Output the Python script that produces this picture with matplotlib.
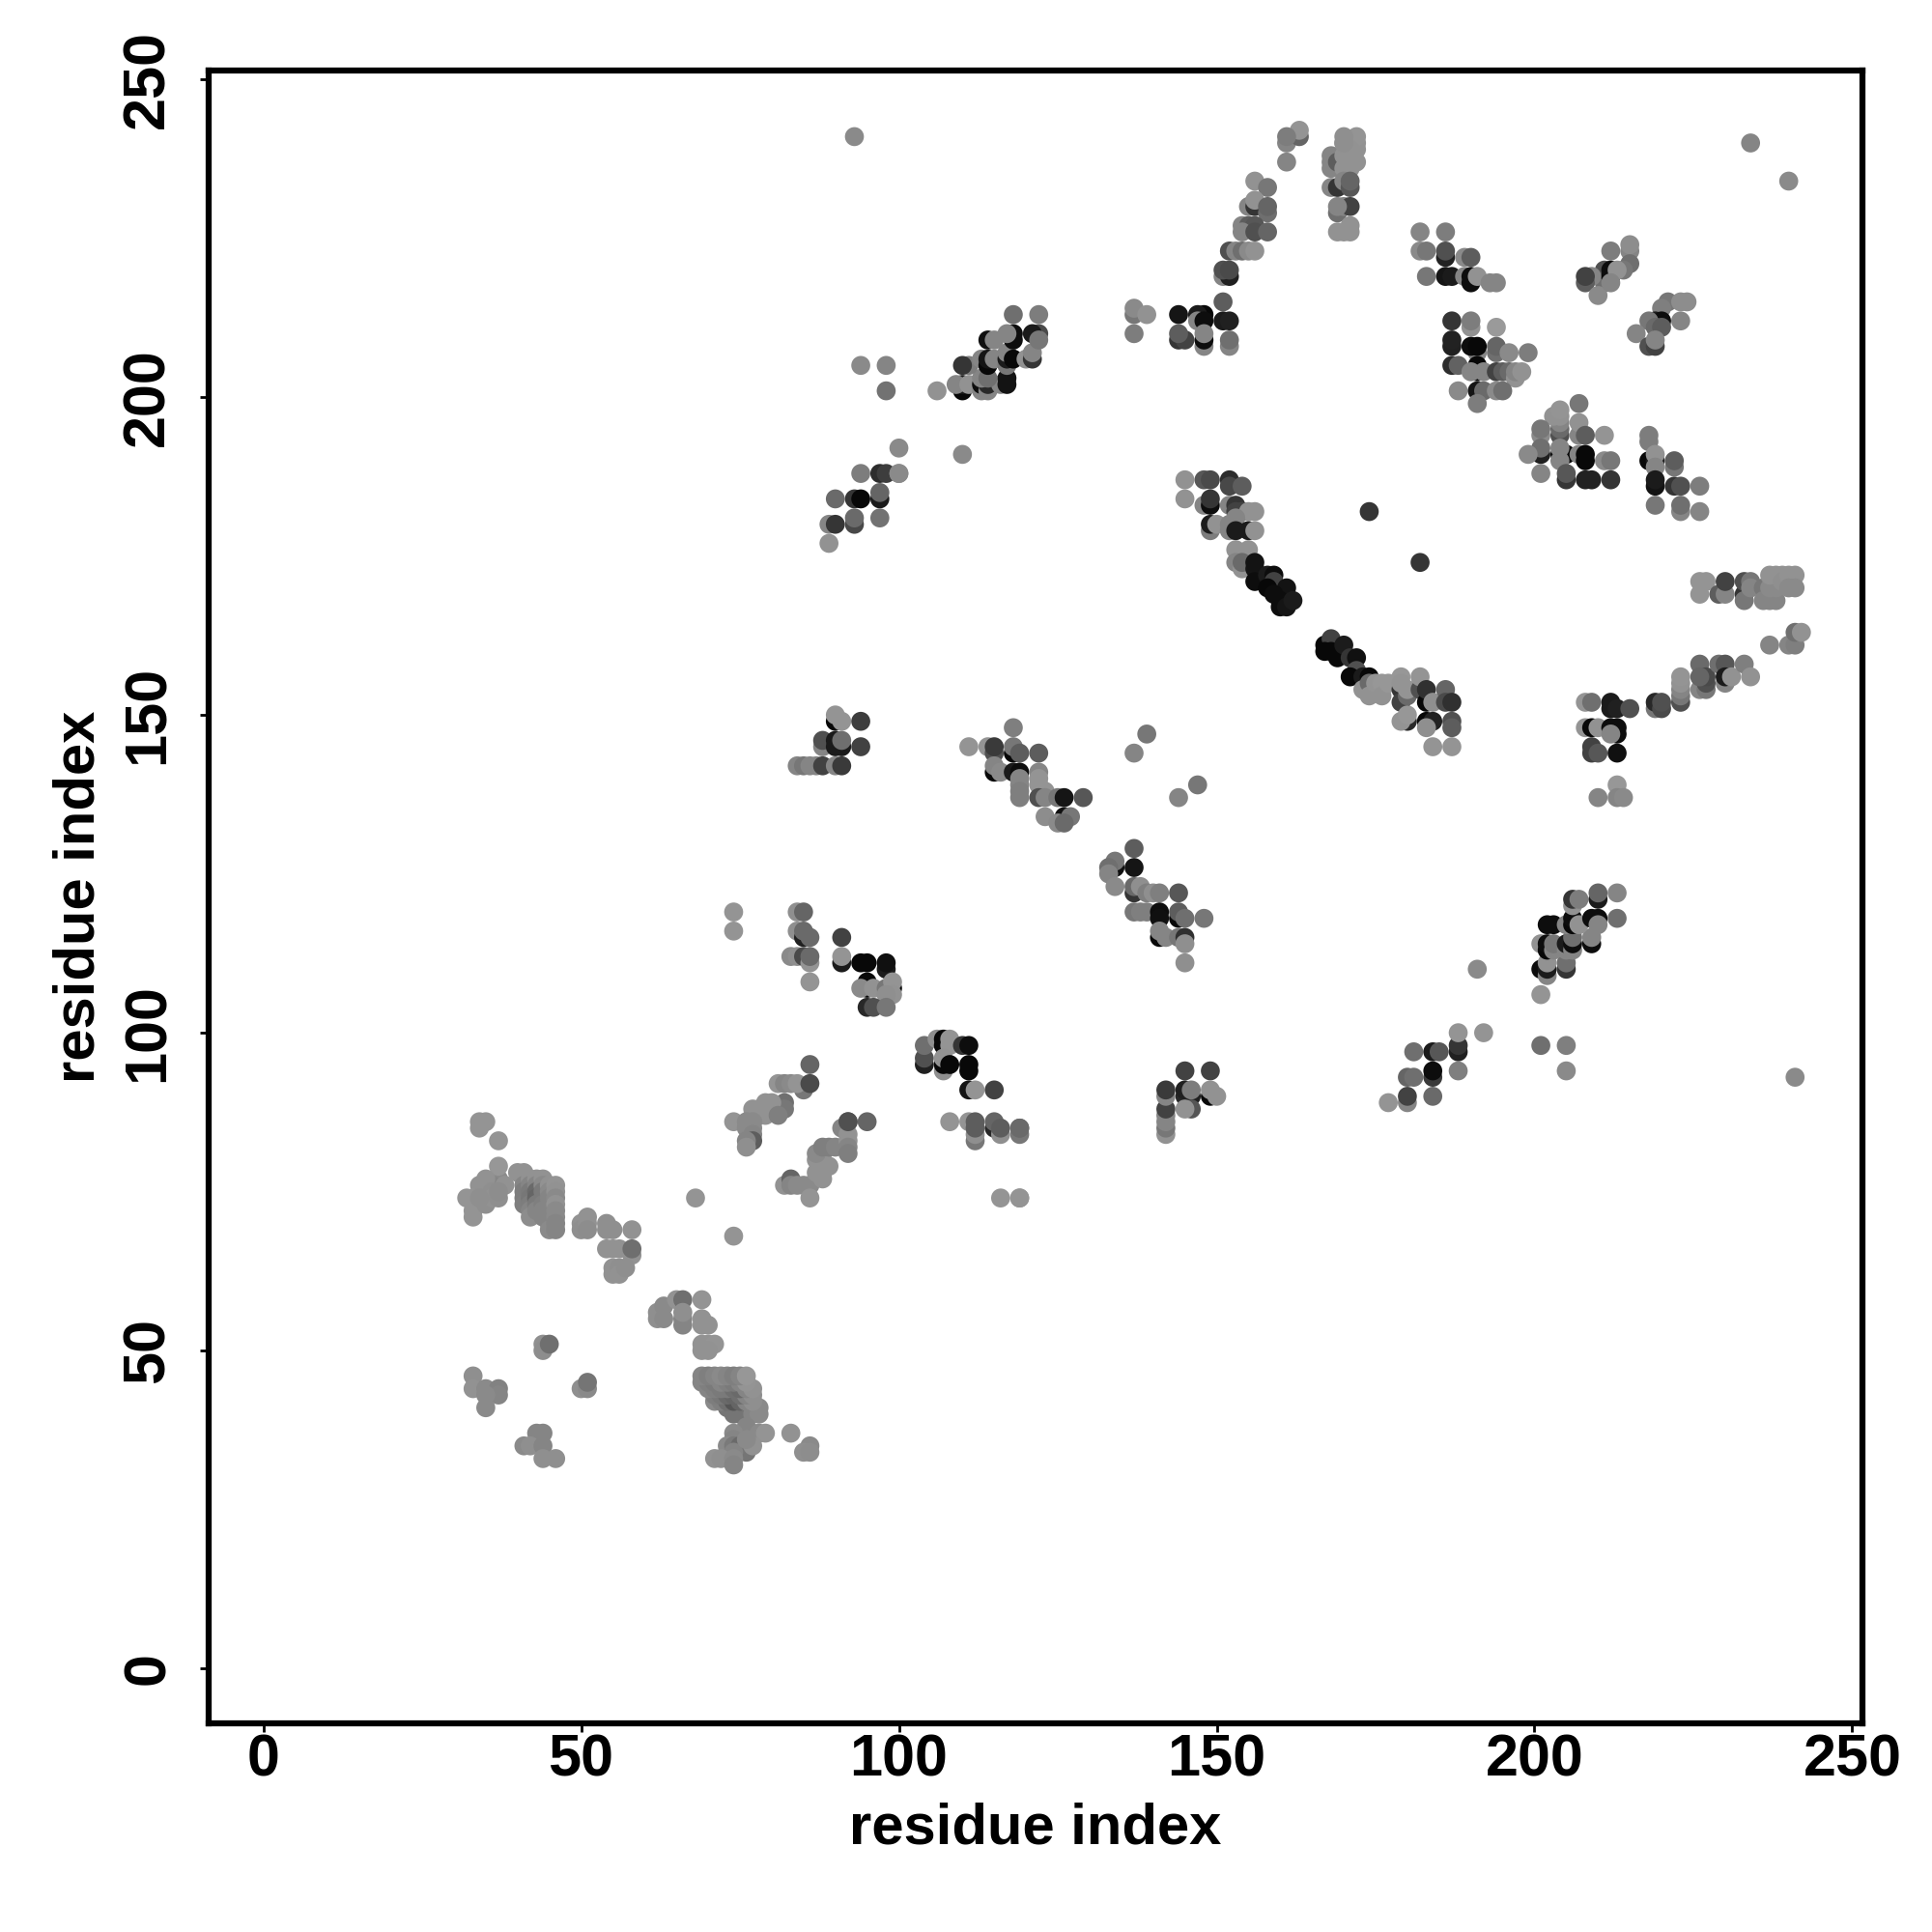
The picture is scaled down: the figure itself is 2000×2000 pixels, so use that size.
# Residue contact map, grey level of each point is stored in percent

import matplotlib
matplotlib.use('Agg')
import matplotlib.pyplot as plt

a_x = [37, 37, 35, 35, 36, 34, 35, 34, 37, 37, 34, 35, 38, 32, 33, 33, 33, 35, 36, 36, 37, 37, 34]
a_y = [76, 77, 76, 74, 76, 86, 86, 85, 83, 79, 76, 77, 76, 74, 74, 72, 71, 73, 75, 74, 74, 75, 74]
a_s = [15, 52, 45, 48, 50, 56, 56, 56, 56, 57, 55, 55, 55, 56, 56, 56, 56, 54, 54, 55, 54, 53, 54]

b_x = [40, 41, 41, 41, 41, 41, 41, 42, 42, 42, 42, 42, 42, 42, 43, 43, 43, 43, 43, 43,
       44, 44, 44, 44, 44, 44, 44, 45, 45, 45, 45, 45, 45, 45, 45, 46, 46, 46, 46, 46, 46, 46, 46]
b_y = [78, 78, 77, 76, 75, 74, 73, 77, 76, 75, 74, 73, 72, 71, 77, 76, 75, 74, 73, 72,
       77, 76, 75, 74, 73, 72, 71, 76, 75, 74, 73, 72, 71, 70, 69, 76, 75, 74, 73, 72, 71, 70, 69]
b_s = [55, 55, 55, 50, 47, 47, 48, 55, 50, 46, 45, 47, 50, 53, 55, 50, 40, 38, 46, 50,
       55, 52, 46, 46, 48, 50, 50, 55, 52, 50, 50, 50, 50, 50, 52, 56, 55, 52, 55, 52, 52, 50, 50]

c_x = [51, 50, 50, 51, 51, 54, 55, 54, 58, 54, 55, 56, 58, 58, 55, 55, 56, 56, 57]
c_y = [71, 70, 69, 70, 69, 70, 69, 69, 69, 66, 66, 66, 65, 66, 63, 62, 63, 62, 63]
c_s = [55, 55, 54, 55, 53, 54, 54, 54, 55, 55, 55, 55, 55, 42, 55, 55, 54, 55, 54]

d_x = [62, 62, 63, 63, 65, 66, 66, 66, 66, 69, 69, 69, 70, 69, 69, 70, 71, 70]
d_y = [56, 55, 57, 55, 58, 58, 54, 55, 56, 58, 55, 54, 54, 51, 50, 51, 51, 50]
d_s = [54, 54, 52, 52, 55, 42, 50, 50, 54, 56, 55, 55, 55, 55, 55, 55, 56, 55]

e_x = [73, 74, 75, 76, 77, 78, 74, 75, 76, 77, 78, 71, 72, 73, 74, 75, 76, 77,
       71, 72, 73, 74, 75, 76, 77, 70, 71, 72, 73, 74, 75, 76, 77,
       69, 70, 71, 72, 73, 74, 75, 76, 69, 70, 71, 72, 73, 74, 75, 76]
e_y = [41, 41, 41, 41, 41, 41, 40, 40, 40, 40, 40, 42, 42, 42, 42, 42, 42, 42,
       43, 43, 43, 43, 43, 43, 43, 44, 44, 44, 44, 44, 44, 44, 44,
       45, 45, 45, 45, 45, 45, 45, 45, 46, 46, 46, 46, 46, 46, 46, 46]
e_s = [44, 40, 42, 44, 50, 52, 44, 44, 44, 50, 52, 52, 48, 42, 32, 38, 50, 54,
       47, 45, 40, 38, 42, 50, 54, 50, 48, 46, 46, 42, 40, 50, 55,
       50, 48, 46, 50, 48, 46, 50, 56, 50, 48, 50, 52, 50, 48, 50, 57]

f_x = [75, 76, 74, 74, 77, 78, 79, 73, 74, 75, 76, 74, 77, 76, 71, 72, 74, 74, 83, 86, 85, 86]
f_y = [36, 38, 37, 36, 37, 37, 37, 35, 35, 35, 34, 34, 35, 36, 33, 33, 33, 32, 37, 35, 34, 34]
f_s = [15, 50, 52, 50, 50, 52, 56, 52, 46, 40, 44, 50, 55, 52, 55, 54, 52, 50, 55, 52, 54, 53]

g_x = [33, 33, 35, 37, 37, 35, 35, 44, 44, 45, 50, 51, 51, 43, 44, 41, 42, 44, 44, 46]
g_y = [46, 44, 44, 44, 43, 41, 43, 51, 50, 51, 44, 44, 45, 37, 37, 35, 35, 35, 33, 33]
g_s = [54, 55, 52, 49, 50, 52, 52, 54, 53, 42, 54, 52, 44, 50, 50, 52, 54, 50, 54, 54]

h_x = [74, 74, 84, 85, 84, 85, 85, 86, 83, 84, 85, 86, 86, 86, 91, 91, 91, 94, 95, 98, 98, 95, 95, 94, 96, 99, 98, 99, 99, 98, 95, 96, 98]
h_y = [119, 116, 119, 119, 116, 115, 116, 115, 112, 112, 112, 111, 112, 108, 115, 111, 112, 111, 111, 110, 111, 108, 107, 107, 107, 107, 107, 108, 106, 106, 104, 104, 104]
h_s = [56, 56, 54, 38, 54, 12, 40, 40, 52, 54, 28, 56, 40, 56, 25, 10, 56, 3, 3, 10, 6, 3, 3, 52, 55, 3, 45, 56, 55, 54, 15, 30, 45]

i_x = [104, 104, 104, 106, 107, 107, 108, 108, 107, 107, 107, 108, 110, 111, 111, 111, 111, 112, 115, 108, 111, 112, 112, 112, 112, 115, 115, 116, 116, 119, 119, 116, 119, 74, 68]
i_y = [95, 96, 98, 99, 99, 98, 99, 98, 94, 95, 96, 95, 98, 98, 95, 94, 91, 91, 91, 86, 86, 83, 84, 85, 86, 85, 86, 84, 85, 84, 85, 74, 74, 68, 74]
i_s = [12, 30, 42, 54, 3, 3, 56, 56, 54, 3, 55, 3, 20, 5, 3, 3, 8, 56, 25, 56, 56, 45, 54, 35, 35, 15, 38, 54, 35, 45, 40, 56, 56, 56, 56]

j_x = [85, 81, 82, 83, 84, 86, 95, 92, 82, 82, 78, 79, 80, 77, 74, 77, 78, 79, 81, 76, 77, 76, 77, 77, 77, 76, 76]
j_y = [91, 92, 92, 92, 92, 95, 86, 86, 89, 88, 88, 89, 89, 88, 86, 87, 87, 87, 87, 86, 86, 85, 85, 84, 83, 83, 82]
j_s = [45, 56, 50, 52, 56, 38, 38, 30, 42, 45, 55, 55, 55, 55, 56, 55, 55, 55, 48, 52, 52, 52, 52, 50, 35, 50, 54]

k_x = [86, 82, 83, 83, 84, 85, 86, 87, 87, 88, 88, 88, 89, 87, 88, 89, 90, 91, 92, 92, 92, 92, 92, 86]
k_y = [92, 76, 77, 76, 76, 76, 76, 78, 80, 77, 78, 80, 79, 81, 82, 82, 82, 85, 84, 83, 82, 81, 86, 74]
k_s = [28, 55, 38, 50, 52, 52, 52, 55, 55, 55, 55, 55, 55, 52, 48, 48, 50, 50, 55, 55, 50, 48, 30, 56]

l_x = [90, 91, 90, 94, 88, 88, 90, 90, 91, 91, 94, 84, 85, 86, 87, 88, 90, 91]
l_y = [149, 149, 150, 149, 145, 146, 146, 145, 145, 146, 145, 142, 142, 142, 142, 142, 142, 142]
l_s = [3, 56, 56, 23, 50, 30, 10, 10, 10, 42, 25, 50, 45, 50, 50, 25, 50, 22]

m_x = [111, 114, 115, 115, 118, 118, 119, 122, 115, 115, 116, 118, 119, 122, 122, 119, 119, 119, 119, 122, 123, 122, 123, 125, 126, 129, 123, 126, 127, 125, 126, 118, 139, 137, 147, 144]
m_y = [145, 145, 144, 145, 144, 145, 144, 144, 141, 142, 141, 141, 141, 141, 140, 140, 139, 138, 137, 139, 138, 137, 137, 137, 137, 137, 134, 134, 134, 133, 133, 148, 147, 144, 139, 137]
m_s = [56, 56, 30, 22, 3, 45, 35, 35, 3, 50, 52, 10, 5, 50, 56, 50, 50, 48, 48, 56, 56, 30, 50, 45, 8, 33, 53, 6, 45, 52, 40, 48, 45, 50, 45, 50]

n_x = [137, 137, 134, 134, 133, 133, 134, 137, 137, 138, 139, 140, 141, 144, 137, 138, 139, 141, 141, 144, 144, 145, 148, 141, 141, 142, 144, 145, 145, 145]
n_y = [129, 126, 126, 127, 126, 125, 123, 122, 123, 123, 122, 122, 122, 122, 119, 119, 119, 119, 118, 118, 119, 118, 118, 115, 116, 115, 115, 115, 114, 111]
n_s = [35, 8, 6, 45, 42, 50, 52, 20, 40, 54, 48, 54, 48, 33, 45, 48, 48, 5, 6, 3, 35, 42, 45, 3, 50, 50, 45, 18, 54, 54]

o_x = [142, 142, 142, 142, 142, 142, 142, 145, 149, 145, 145, 146, 146, 149, 150, 149, 145, 146, 119, 119]
o_y = [84, 85, 86, 87, 88, 90, 91, 94, 94, 90, 91, 90, 88, 90, 90, 91, 88, 91, 85, 74]
o_s = [55, 45, 50, 50, 25, 50, 22, 25, 25, 15, 12, 12, 32, 3, 55, 55, 55, 47, 40, 56]

p_x = [177, 180, 180, 180, 181, 184, 184, 184, 181, 184, 185, 188, 188, 188, 188, 192, 201, 205, 205, 191]
p_y = [89, 89, 90, 93, 93, 90, 93, 94, 97, 97, 97, 97, 98, 100, 94, 100, 98, 98, 94, 110]
p_s = [56, 50, 25, 38, 42, 40, 22, 5, 42, 10, 33, 12, 20, 56, 48, 56, 42, 48, 52, 52]

q_x = [201, 202, 202, 202, 205, 205, 201, 201, 202, 202, 203, 203, 205, 205, 206, 206, 206, 209, 209,
       202, 203, 205, 206, 206, 207, 209, 210, 210, 206, 206, 207, 210, 210, 213, 213]
q_y = [110, 109, 110, 111, 110, 111, 106, 114, 113, 114, 113, 114, 113, 114, 113, 114, 115, 114, 115,
       117, 117, 117, 117, 118, 117, 118, 118, 117, 120, 121, 121, 121, 122, 122, 118]
q_s = [5, 50, 10, 55, 20, 42, 56, 55, 3, 5, 50, 45, 50, 10, 50, 5, 42, 5, 50,
       5, 5, 50, 3, 5, 55, 5, 5, 50, 55, 20, 47, 10, 38, 50, 42]

r_x = [167, 168, 168, 167, 169, 170, 171, 172, 172, 171, 173, 174, 173, 174, 174, 175, 176, 176, 177, 179, 179, 179, 179, 180, 180, 182, 182, 183, 183, 184, 186, 186, 187, 180, 179, 180, 183, 184, 183, 187, 187, 184, 187]
r_y = [161, 162, 160, 160, 159, 161, 159, 159, 157, 156, 156, 156, 154, 155, 153, 155, 155, 153, 155, 154, 152, 156, 155, 153, 154, 154, 156, 152, 154, 152, 154, 152, 152, 149, 149, 150, 149, 149, 148, 149, 148, 145, 145]
r_s = [3, 25, 3, 3, 3, 10, 20, 6, 30, 3, 10, 3, 55, 40, 55, 56, 57, 55, 57, 20, 25, 57, 56, 40, 56, 30, 56, 3, 18, 54, 38, 28, 18, 15, 56, 57, 3, 13, 54, 30, 35, 56, 56]

s_x = [208, 209, 212, 212, 213, 215, 208, 209, 210, 212, 213, 213, 212, 209, 209, 210, 213, 213, 210, 213, 214]
s_y = [152, 152, 152, 151, 151, 151, 148, 148, 148, 148, 148, 147, 147, 145, 144, 144, 144, 139, 137, 137, 137]
s_s = [56, 42, 10, 10, 12, 30, 56, 3, 55, 5, 5, 5, 50, 25, 25, 33, 6, 57, 50, 50, 52]

t_x = [226, 227, 226, 229, 230, 230, 233, 233, 233, 234, 234, 236, 236, 237, 238, 237, 238, 237, 238, 239, 239, 240, 241, 241, 240, 237, 240, 241, 241, 242]
t_y = [171, 171, 169, 169, 169, 171, 169, 168, 171, 171, 170, 170, 168, 168, 168, 170, 170, 172, 172, 172, 171, 172, 172, 170, 170, 161, 161, 161, 163, 163]
t_s = [56, 56, 56, 35, 50, 25, 20, 45, 30, 45, 50, 45, 50, 50, 50, 52, 52, 55, 55, 55, 54, 55, 55, 52, 52, 50, 50, 48, 42, 55]

u_x = [219, 219, 220, 220, 223, 223, 223, 223, 223, 226, 226, 227, 227, 227, 226, 229, 230, 230, 230, 231, 233, 234]
u_y = [151, 152, 151, 152, 152, 153, 154, 155, 156, 158, 154, 154, 155, 156, 156, 158, 158, 155, 156, 156, 158, 156]
u_s = [45, 15, 28, 30, 30, 45, 50, 55, 56, 40, 50, 45, 30, 28, 38, 42, 33, 50, 10, 55, 48, 55]

v_x = [182, 186, 182, 183, 186, 186, 189, 190, 183, 186, 187, 189, 190, 190, 191, 193, 194]
v_y = [226, 226, 223, 223, 222, 223, 222, 222, 219, 219, 219, 219, 218, 219, 219, 218, 218]
v_s = [50, 47, 52, 45, 13, 30, 52, 35, 45, 8, 10, 50, 5, 5, 55, 50, 50]

w_x = [187, 190, 190, 194, 187, 187, 191, 190, 191, 194, 194, 196, 199, 187, 188, 191, 191, 190, 192, 194, 195, 196, 197, 197, 198, 188, 191, 192, 194, 195, 191]
w_y = [212, 211, 212, 211, 208, 209, 207, 208, 208, 207, 208, 207, 207, 205, 205, 204, 205, 204, 204, 204, 204, 204, 203, 204, 204, 201, 201, 201, 201, 201, 199]
w_s = [20, 55, 47, 58, 12, 13, 50, 5, 3, 42, 38, 52, 47, 17, 37, 3, 3, 50, 50, 25, 35, 40, 55, 50, 55, 52, 8, 40, 52, 42, 47]

y_x = [212, 215, 215, 215, 211, 211, 212, 212, 209, 208, 208, 210, 214, 213, 212]
y_y = [223, 223, 224, 221, 218, 220, 219, 220, 219, 218, 219, 216, 220, 220, 218]
y_s = [47, 50, 53, 42, 42, 30, 3, 5, 50, 35, 25, 52, 45, 55, 50]

z_x = [221, 223, 224, 220, 219, 220, 218, 219, 220, 223, 216, 218, 219, 219]
z_y = [215, 215, 215, 214, 212, 212, 212, 211, 211, 212, 210, 208, 208, 209]
z_s = [45, 53, 53, 48, 10, 5, 45, 40, 35, 50, 50, 30, 25, 50]

aa_x = [207, 204, 204, 204, 204, 203, 204, 207, 207, 208, 211, 201, 201, 201, 201, 199, 204, 205, 204, 207, 208, 208, 211, 212, 201, 204, 205, 205, 208, 209, 212]
aa_y = [199, 194, 195, 196, 197, 197, 198, 194, 196, 194, 194, 194, 195, 191, 192, 191, 191, 191, 192, 191, 190, 191, 190, 190, 188, 190, 187, 188, 187, 187, 187]
aa_s = [45, 30, 40, 50, 55, 55, 56, 50, 55, 35, 56, 52, 45, 12, 42, 52, 5, 3, 50, 50, 3, 3, 52, 45, 50, 50, 20, 33, 13, 13, 20]

ab_x = [218, 218, 218, 219, 219, 222, 222, 219, 219, 222, 223, 226, 219, 223, 223, 226]
ab_y = [193, 194, 190, 190, 191, 189, 190, 189, 186, 186, 186, 186, 183, 182, 183, 182]
ab_s = [47, 47, 3, 10, 55, 45, 35, 50, 7, 20, 30, 47, 45, 50, 42, 50]
ab2_x = [219, 161, 163, 163, 161, 161]
ab2_y = [187, 240, 241, 242, 241, 237]
ab2_s = [10, 50, 38, 56, 47, 50]

ac_x = [168, 168, 168, 169, 170, 171, 172, 172, 170, 172, 172, 171, 170, 168, 169, 170, 171, 171, 169, 170, 171, 169, 169, 170, 171, 171]
ac_y = [236, 237, 238, 237, 236, 236, 237, 239, 238, 240, 241, 239, 240, 233, 233, 234, 233, 234, 229, 230, 230, 230, 226, 226, 226, 227]
ac_s = [50, 50, 50, 35, 55, 55, 55, 55, 55, 55, 56, 55, 55, 50, 20, 50, 33, 38, 42, 50, 25, 50, 55, 55, 55, 55]
ac2_x = [170, 170]
ac2_y = [241, 240]
ac2_s = [54, 54]

ad_x = [156, 158, 155, 156, 156, 158, 158, 154, 155, 156, 154, 156, 158, 152, 153, 154, 155, 156, 151, 152, 151, 152]
ad_y = [234, 233, 230, 230, 231, 229, 230, 227, 227, 227, 226, 226, 226, 223, 223, 223, 223, 223, 219, 219, 220, 220]
ad_s = [55, 45, 50, 20, 55, 42, 38, 50, 35, 33, 50, 30, 38, 30, 50, 42, 52, 55, 50, 12, 30, 28]

ae_x = [151, 151, 152, 148, 147, 147, 148, 144, 144, 145, 148, 148, 148, 144, 152, 152, 137, 137, 139, 137]
ae_y = [215, 212, 212, 213, 213, 212, 212, 213, 209, 209, 208, 209, 210, 210, 208, 209, 213, 214, 213, 210]
ae_s = [35, 10, 12, 3, 10, 50, 5, 8, 20, 25, 50, 5, 50, 35, 50, 42, 45, 52, 55, 47]

af_x = [145, 148, 149, 152, 152, 154, 145, 148, 149, 149, 152, 153, 153, 154, 155, 156]
af_y = [187, 187, 187, 187, 186, 186, 184, 183, 183, 184, 183, 183, 182, 182, 182, 182]
af_s = [55, 33, 28, 17, 27, 35, 55, 50, 5, 20, 50, 20, 25, 25, 55, 55]

ag_x = [149, 149, 150, 152, 152, 153, 153, 155, 156, 153, 155, 153, 154, 154, 156, 156, 156, 158, 159, 159, 158, 161, 159, 160, 160, 161, 162, 174, 182]
ag_y = [179, 180, 180, 180, 179, 181, 179, 179, 179, 176, 176, 174, 173, 174, 173, 174, 171, 172, 172, 171, 170, 170, 169, 168, 167, 167, 168, 182, 174]
ag_s = [47, 10, 55, 50, 50, 50, 10, 10, 55, 55, 55, 50, 55, 40, 8, 7, 5, 10, 5, 25, 3, 7, 5, 5, 5, 8, 10, 20, 20]

ah_x = [110, 110, 109, 111, 113, 113, 114, 114, 116, 117, 117, 113, 114, 106, 111, 113, 114, 114, 114, 115, 115, 117, 117, 117, 118, 120, 121, 121, 118, 118, 122, 121, 122, 118, 122]
ah_y = [201, 202, 202, 202, 201, 202, 201, 202, 202, 203, 202, 203, 203, 201, 205, 206, 205, 206, 209, 206, 209, 205, 206, 207, 206, 206, 206, 207, 209, 210, 210, 210, 213, 213, 209]
ah_s = [3, 10, 50, 55, 50, 5, 50, 15, 50, 7, 7, 50, 42, 55, 47, 50, 3, 8, 6, 50, 50, 45, 10, 50, 3, 55, 20, 50, 5, 5, 28, 10, 47, 42, 45]
ah2_x = [110, 117]
ah2_y = [205, 210]
ah2_s = [20, 50]

ai_x = [94, 98, 98, 94, 97, 98, 100, 100, 100, 110, 90, 93, 94, 97, 97, 97, 89, 90, 93, 93, 89, 93]
ai_y = [205, 205, 201, 188, 188, 188, 188, 192, 188, 191, 184, 184, 184, 184, 185, 181, 180, 180, 180, 181, 177, 241]
ai_s = [52, 50, 43, 47, 17, 23, 52, 52, 52, 52, 40, 20, 3, 10, 38, 43, 50, 20, 27, 40, 55, 52]

aj_x = [234, 240, 241]
aj_y = [240, 234, 93]
aj_s = [50, 52, 52]

groups = [(a_x, a_y, a_s), (b_x, b_y, b_s), (c_x, c_y, c_s), (d_x, d_y, d_s), (e_x, e_y, e_s),
          (f_x, f_y, f_s), (g_x, g_y, g_s), (h_x, h_y, h_s), (i_x, i_y, i_s), (j_x, j_y, j_s),
          (k_x, k_y, k_s), (l_x, l_y, l_s), (m_x, m_y, m_s), (n_x, n_y, n_s), (o_x, o_y, o_s),
          (p_x, p_y, p_s), (q_x, q_y, q_s), (r_x, r_y, r_s), (s_x, s_y, s_s), (t_x, t_y, t_s),
          (u_x, u_y, u_s), (v_x, v_y, v_s), (w_x, w_y, w_s), (y_x, y_y, y_s), (z_x, z_y, z_s),
          (aa_x, aa_y, aa_s), (ab_x, ab_y, ab_s), (ab2_x, ab2_y, ab2_s), (ac_x, ac_y, ac_s),
          (ac2_x, ac2_y, ac2_s), (ad_x, ad_y, ad_s), (ae_x, ae_y, ae_s), (af_x, af_y, af_s),
          (ag_x, ag_y, ag_s), (ah_x, ah_y, ah_s), (ah2_x, ah2_y, ah2_s), (ai_x, ai_y, ai_s),
          (aj_x, aj_y, aj_s)]

ticks = [0, 50, 100, 150, 200, 250]

plt.rcParams['font.family'] = ['Liberation Sans', 'DejaVu Sans']

fig = plt.figure(figsize=(20, 20), dpi=100)
ax = fig.add_axes([216 / 2000, 1 - 1784 / 2000, (1928 - 216) / 2000, (1784 - 73) / 2000])

for gx, gy, gs in groups:
    greys = [str(round(v * 1.04 / 100, 3)) for v in gs]
    ax.scatter(gx, gy, s=200, c=greys, linewidths=0, zorder=2)

ax.set_xlim(-8.6, 251.6)
ax.set_ylim(-8.66, 251.4)
ax.set_xticks(ticks)
ax.set_yticks(ticks)
ax.set_xticklabels(ticks, fontsize=44, fontweight='bold')
ax.set_yticklabels(ticks, fontsize=44, fontweight='bold', rotation=90, va='center')
ax.tick_params(axis='x', length=6.5, width=2, pad=1)
ax.tick_params(axis='y', length=6.5, width=2, pad=17.5)
for sp in ax.spines.values():
    sp.set_linewidth(4.5)

ax.set_xlabel('residue index', fontsize=43, fontweight='bold', labelpad=10)
ax.set_ylabel('residue index', fontsize=43, fontweight='bold', labelpad=11.5)

fig.savefig('out.png', dpi=100)
